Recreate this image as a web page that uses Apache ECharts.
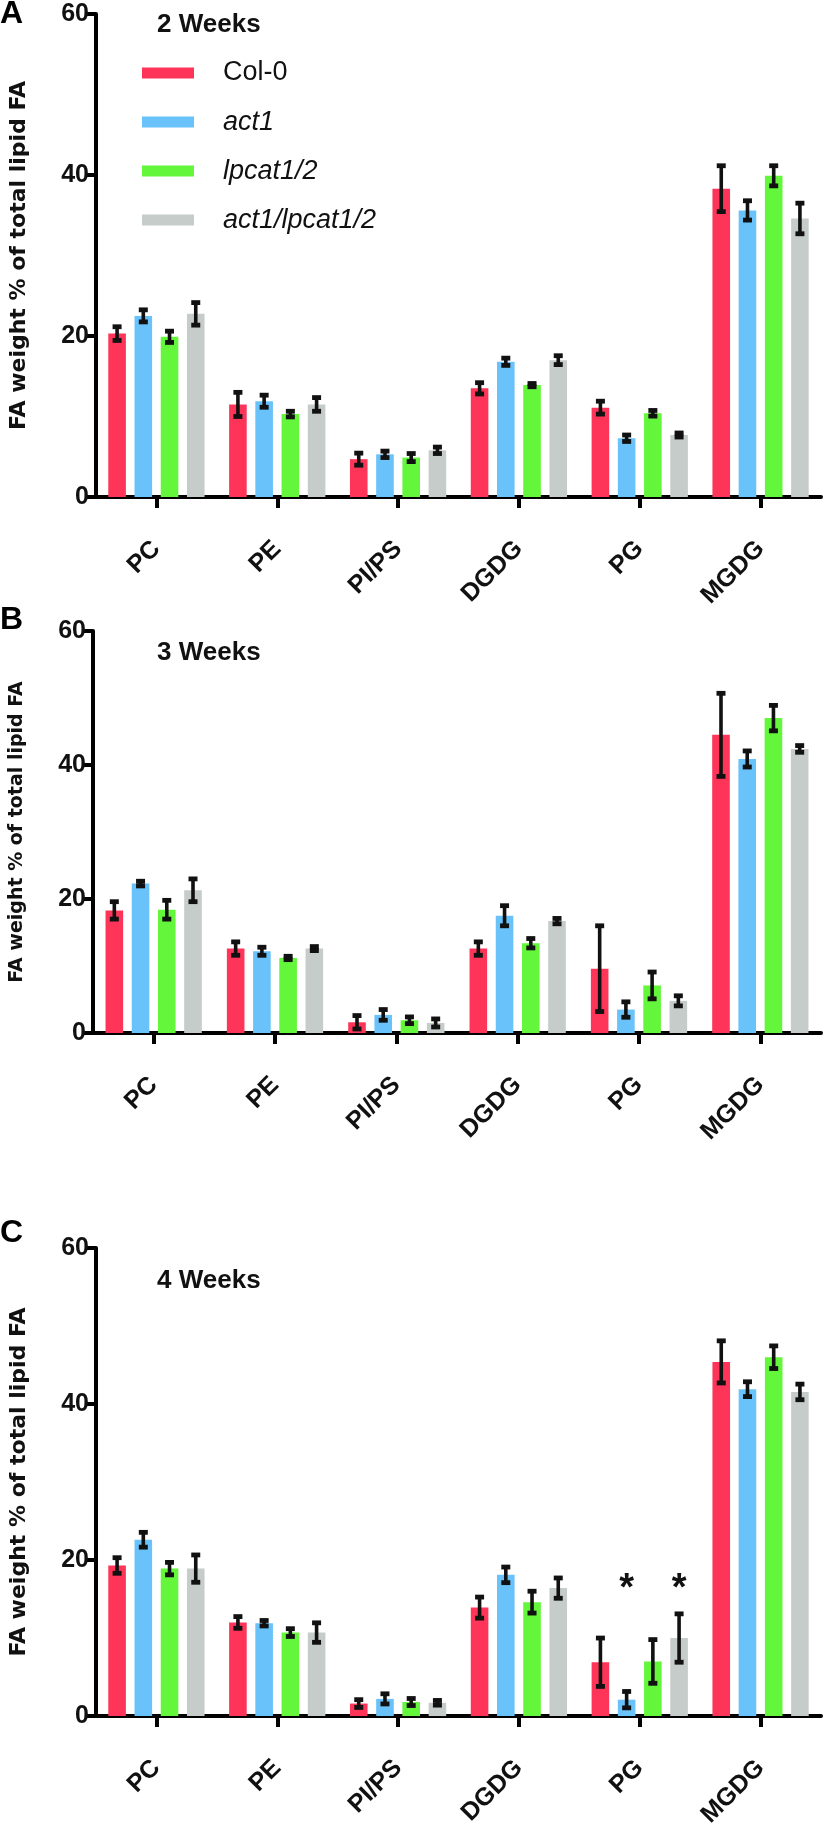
<!DOCTYPE html>
<html>
<head>
<meta charset="utf-8">
<script src="https://cdn.jsdelivr.net/npm/echarts@6/dist/echarts.min.js"></script>
<style>
  html, body { margin: 0; padding: 0; background: #fff; }
  #chart { width: 826px; height: 1830px; }
</style>
</head>
<body>
<div id="chart"></div>
<script>
// ---------------- data ----------------
const categories = ['PC', 'PE', 'PI/PS', 'DGDG', 'PG', 'MGDG'];
const genotypes = ['Col-0', 'act1', 'lpcat1/2', 'act1/lpcat1/2'];
const yTicks = [0, 20, 40, 60];
const panelLetters = ['A', 'B', 'C'];
const panelTitles = ['2 Weeks', '3 Weeks', '4 Weeks'];
const yAxisTitle = 'FA weight % of total lipid FA';

// 2 weeks (means, SD)
const w2_col0 = [20.3, 11.5, 4.7, 13.5, 11.1, 38.3];
const w2_col0_sd = [0.85, 1.5, 0.75, 0.7, 0.8, 2.85];
const w2_act1 = [22.5, 11.9, 5.3, 16.8, 7.3, 35.6];
const w2_act1_sd = [0.75, 0.75, 0.4, 0.45, 0.4, 1.2];
const w2_lpcat = [19.9, 10.3, 4.9, 13.9, 10.4, 39.9];
const w2_lpcat_sd = [0.7, 0.35, 0.5, 0.2, 0.35, 1.25];
const w2_double = [22.75, 11.5, 5.8, 17.0, 7.7, 34.6];
const w2_double_sd = [1.4, 0.85, 0.4, 0.55, 0.25, 1.9];

// 3 weeks
const w3_col0 = [18.3, 12.6, 1.6, 12.6, 9.6, 44.5];
const w3_col0_sd = [1.3, 1.0, 1.0, 1.0, 6.4, 6.2];
const w3_act1 = [22.3, 12.2, 2.7, 17.5, 3.5, 40.9];
const w3_act1_sd = [0.35, 0.6, 0.8, 1.5, 1.15, 1.2];
const w3_lpcat = [18.4, 11.2, 1.9, 13.4, 7.1, 47.0];
const w3_lpcat_sd = [1.4, 0.25, 0.5, 0.7, 2.0, 1.9];
const w3_double = [21.3, 12.6, 1.5, 16.7, 4.8, 42.4];
const w3_double_sd = [1.7, 0.3, 0.6, 0.4, 0.75, 0.5];

// 4 weeks
const w4_col0 = [19.3, 12.0, 1.6, 13.9, 6.9, 45.4];
const w4_col0_sd = [1.0, 0.75, 0.5, 1.35, 3.1, 2.7];
const w4_act1 = [22.6, 11.9, 2.2, 18.1, 2.1, 41.9];
const w4_act1_sd = [0.95, 0.35, 0.65, 1.0, 1.05, 0.95];
const w4_lpcat = [18.9, 10.7, 1.8, 14.6, 7.0, 46.0];
const w4_lpcat_sd = [0.8, 0.5, 0.45, 1.4, 2.8, 1.45];
const w4_double = [18.9, 10.7, 1.7, 16.4, 10.0, 41.55];
const w4_double_sd = [1.75, 1.25, 0.3, 1.3, 3.1, 1.0];

// significance marks in panel C: [category index, genotype index, y value]
const w4_signif = [[4, 1, 17.3], [4, 3, 17.3]];

// ---------------- style ----------------
const colors = ['#FE3558', '#69C2F9', '#63F63A', '#C6CCCA'];
const FONT = "'Liberation Sans', Arial, Helvetica, sans-serif";
const BAR_W = 17.6;
const BAR_GAP = 0.49;
const PITCH = BAR_W * (1 + BAR_GAP);
const panelGrids = [
  { top: 14, height: 483, nameSize: 22 },
  { top: 631, height: 402, nameSize: 19 },
  { top: 1248, height: 485, nameSize: 22 }
];
const titlePos = [
  { letterTop: -2, titleTop: 12 },
  { letterTop: 604, titleTop: 640 },
  { letterTop: 1217, titleTop: 1268 }
];

const panels = [
  { means: [w2_col0, w2_act1, w2_lpcat, w2_double], sds: [w2_col0_sd, w2_act1_sd, w2_lpcat_sd, w2_double_sd], signif: [] },
  { means: [w3_col0, w3_act1, w3_lpcat, w3_double], sds: [w3_col0_sd, w3_act1_sd, w3_lpcat_sd, w3_double_sd], signif: [] },
  { means: [w4_col0, w4_act1, w4_lpcat, w4_double], sds: [w4_col0_sd, w4_act1_sd, w4_lpcat_sd, w4_double_sd], signif: w4_signif }
];

const grids = [], xAxes = [], yAxes = [], series = [], titles = [];

panels.forEach((p, pi) => {
  grids.push({ left: 89, right: 5, top: panelGrids[pi].top, height: panelGrids[pi].height, containLabel: false });
  xAxes.push({
    type: 'category', gridIndex: pi, data: categories,
    axisLine: { show: true, lineStyle: { color: '#000', width: 4 } },
    axisTick: { show: true, alignWithLabel: true, length: 11, lineStyle: { color: '#000', width: 4 } },
    axisLabel: { interval: 0, rotate: 45, margin: 48, color: '#111', fontSize: 25, fontWeight: 'bold', fontFamily: FONT },
    splitLine: { show: false }
  });
  yAxes.push({
    type: 'value', gridIndex: pi, min: yTicks[0], max: yTicks[yTicks.length - 1], interval: yTicks[1] - yTicks[0],
    name: yAxisTitle, nameLocation: 'middle', nameGap: 66, nameRotate: 90,
    nameTextStyle: { color: '#111', fontSize: panelGrids[pi].nameSize, fontWeight: 'bold', fontFamily: "'DejaVu Sans', sans-serif" },
    axisLine: { show: true, lineStyle: { color: '#000', width: 4 } },
    axisTick: { show: true, length: 11, lineStyle: { color: '#000', width: 4 } },
    axisLabel: { margin: 7, color: '#111', fontSize: 25, fontWeight: 'bold', fontFamily: FONT },
    splitLine: { show: false }
  });
  p.means.forEach((vals, gi) => {
    series.push({
      type: 'bar', name: genotypes[gi], xAxisIndex: pi, yAxisIndex: pi,
      data: vals, barWidth: BAR_W, barGap: (BAR_GAP * 100) + '%',
      itemStyle: { color: colors[gi] }, emphasis: { disabled: true }, z: 2
    });
  });
  const errData = [];
  p.means.forEach((vals, gi) => vals.forEach((v, ci) => errData.push([ci, gi, v, p.sds[gi][ci]])));
  series.push({
    type: 'custom', xAxisIndex: pi, yAxisIndex: pi, z: 5, silent: true,
    dimensions: ['cat', 'geno', 'mean', 'sd'],
    encode: { x: 0, y: 2 },
    data: errData,
    renderItem: function (params, api) {
      const ci = api.value(0), gi = api.value(1), m = api.value(2), sd = api.value(3);
      const c = api.coord([ci, m]);
      const x = c[0] + (gi - 1.5) * PITCH;
      const yTop = api.coord([ci, m + sd])[1];
      const yBot = api.coord([ci, m - sd])[1];
      const st = { fill: '#111' };
      return {
        type: 'group',
        children: [
          { type: 'rect', shape: { x: x - 1.8, y: yTop, width: 3.6, height: yBot - yTop }, style: st },
          { type: 'rect', shape: { x: x - 4.5, y: yTop - 2.4, width: 9, height: 4.8 }, style: st },
          { type: 'rect', shape: { x: x - 4.5, y: yBot - 2.4, width: 9, height: 4.8 }, style: st }
        ]
      };
    }
  });
  if (p.signif.length) {
    series.push({
      type: 'custom', xAxisIndex: pi, yAxisIndex: pi, z: 6, silent: true,
      dimensions: ['cat', 'geno', 'y'], encode: { x: 0, y: 2 },
      data: p.signif,
      renderItem: function (params, api) {
        const c = api.coord([api.value(0), api.value(2)]);
        const x = c[0] + (api.value(1) - 1.5) * PITCH;
        return { type: 'text', style: { x: x, y: c[1] + 8, text: '*', fill: '#111', font: 'bold 38px ' + FONT, textAlign: 'center', textVerticalAlign: 'middle' } };
      }
    });
  }
  titles.push({ text: panelLetters[pi], left: 0, top: titlePos[pi].letterTop, padding: 0,
    textStyle: { fontSize: 32, fontWeight: 'bold', fontFamily: FONT, color: '#000' } });
  titles.push({ text: panelTitles[pi], left: 157, top: titlePos[pi].titleTop, padding: 0,
    textStyle: { fontSize: 26, fontWeight: 'bold', fontFamily: FONT, color: '#111' } });
});

const chart = echarts.init(document.getElementById('chart'), null, { renderer: 'canvas' });
chart.setOption({
  animation: false,
  backgroundColor: '#fff',
  title: titles,
  grid: grids,
  xAxis: xAxes,
  yAxis: yAxes,
  legend: {
    data: genotypes, orient: 'vertical', left: 142, top: 59, padding: 0,
    itemWidth: 52, itemHeight: 11, itemGap: 21, icon: 'rect',
    selectedMode: false,
    formatter: function (name) { return name === 'Col-0' ? '{n|' + name + '}' : '{i|' + name + '}'; },
    textStyle: {
      fontSize: 27, fontFamily: FONT, color: '#111', lineHeight: 28,
      rich: {
        n: { fontSize: 27, fontFamily: FONT, color: '#111', padding: [0, 0, 0, 24], lineHeight: 28 },
        i: { fontSize: 27, fontFamily: FONT, fontStyle: 'italic', color: '#111', padding: [0, 0, 0, 24], lineHeight: 28 }
      }
    }
  },
  series: series
});
</script>
</body>
</html>
